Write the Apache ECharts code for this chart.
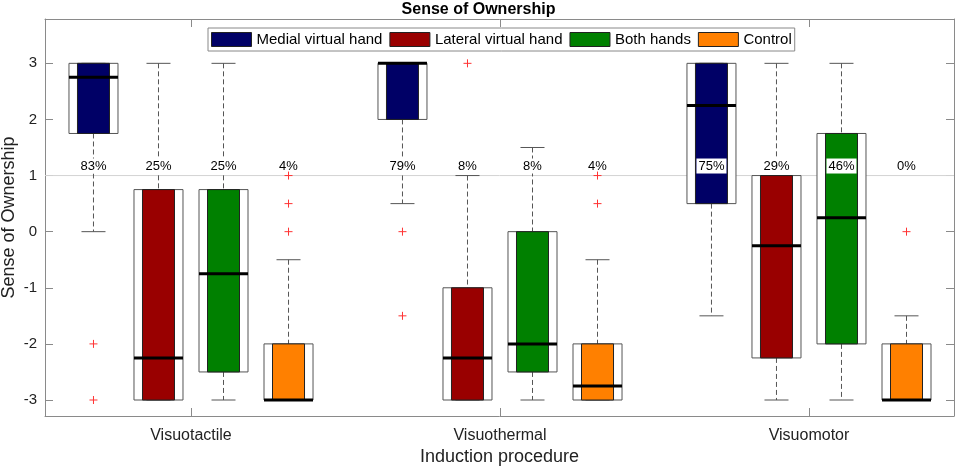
<!DOCTYPE html>
<html>
<head>
<meta charset="utf-8">
<script src="https://cdn.jsdelivr.net/npm/echarts@6/dist/echarts.min.js"></script>
<style>
html,body{margin:0;padding:0;background:#fff;}
#chart{width:957px;height:469px;}
</style>
</head>
<body>
<div id="chart"></div>
<script>
// ---------- data ----------
const categories = ['Visuotactile', 'Visuothermal', 'Visuomotor'];
const seriesNames = ['Medial virtual hand', 'Lateral virtual hand', 'Both hands', 'Control'];
const seriesColors = ['#000066', '#990000', '#008000', '#ff8000'];
const yTicks = [-3, -2, -1, 0, 1, 2, 3];
const refLineValue = 1;

// [whiskerLow, q1, median, q3, whiskerHigh] per category
const medialStats  = [[0, 1.75, 2.75, 3, 3], [0.5, 2, 3, 3, 3], [-1.5, 0.5, 2.25, 3, 3]];
const lateralStats = [[-3, -3, -2.25, 0.75, 3], [-3, -3, -2.25, -1, 1], [-3, -2.25, -0.25, 1, 3]];
const bothStats    = [[-3, -2.5, -0.75, 0.75, 3], [-3, -2.5, -2, 0, 1.5], [-3, -2, 0.25, 1.75, 3]];
const controlStats = [[-3, -3, -3, -2, -0.5], [-3, -3, -2.75, -2, -0.5], [-3, -3, -3, -2, -1.5]];

// outliers per category
const medialOutliers  = [[-2, -3], [0, -1.5], []];
const lateralOutliers = [[], [3], []];
const bothOutliers    = [[], [], []];
const controlOutliers = [[1, 0.5, 0], [1, 0.5], [0]];

// percentage labels per category
const medialPct  = ['83%', '79%', '75%'];
const lateralPct = ['25%', '8%', '29%'];
const bothPct    = ['25%', '8%', '46%'];
const controlPct = ['4%', '4%', '0%'];

// ---------- layout ----------
const allStats = [medialStats, lateralStats, bothStats, controlStats];
const allOutliers = [medialOutliers, lateralOutliers, bothOutliers, controlOutliers];
const allPct = [medialPct, lateralPct, bothPct, controlPct];

const xMin = 0.5275, xMax = 3.4693;
const yMin = -3.285, yMax = 3.79;
const step = 0.2104;
const offsets = [-1.5 * step, -0.5 * step, 0.5 * step, 1.5 * step];
const boxW = 0.1586, innerW = 0.1036, capW = 0.0777;
const labelY = 1.17;
const FONT = '"Liberation Sans", Arial, Helvetica, sans-serif';
const edge = '#555555';

function boxRender(si) {
  return function (params, api) {
    const ci = api.value(0);
    const x = ci + 1 + offsets[si];
    const lo = api.value(1), q1 = api.value(2), med = api.value(3), q3 = api.value(4), hi = api.value(5);
    const px = api.coord([x, 0])[0];
    const yv = v => api.coord([x, v])[1];
    const wOut = api.size([boxW, 0])[0];
    const wIn = api.size([innerW, 0])[0];
    const wCap = api.size([capW, 0])[0];
    const dash = { stroke: edge, lineWidth: 1, lineDash: [5, 3] };
    const solid = { stroke: edge, lineWidth: 1 };
    const children = [
      { type: 'line', shape: { x1: px, y1: yv(hi), x2: px, y2: yv(q3) }, style: dash },
      { type: 'line', shape: { x1: px, y1: yv(q1), x2: px, y2: yv(lo) }, style: dash },
      { type: 'line', shape: { x1: px - wCap / 2, y1: yv(hi), x2: px + wCap / 2, y2: yv(hi) }, style: solid },
      { type: 'line', shape: { x1: px - wCap / 2, y1: yv(lo), x2: px + wCap / 2, y2: yv(lo) }, style: solid },
      { type: 'rect', shape: { x: px - wOut / 2, y: yv(q3), width: wOut, height: yv(q1) - yv(q3) },
        style: { fill: '#ffffff', stroke: edge, lineWidth: 1 } },
      { type: 'rect', shape: { x: px - wIn / 2, y: yv(q3), width: wIn, height: yv(q1) - yv(q3) },
        style: { fill: seriesColors[si], stroke: '#222222', lineWidth: 1 } },
      { type: 'line', shape: { x1: px - wOut / 2, y1: yv(med), x2: px + wOut / 2, y2: yv(med) },
        style: { stroke: '#000000', lineWidth: 3 } },
      { type: 'text', x: px, y: yv(labelY),
        style: { text: allPct[si][ci], fill: '#000', font: '13px ' + FONT, align: 'center', verticalAlign: 'middle',
                 backgroundColor: '#ffffff', padding: [1, 2] } }
    ];
    return { type: 'group', children: children };
  };
}

function outlierRender(params, api) {
  const ci = api.value(0), si = api.value(1), v = api.value(2);
  const p = api.coord([ci + 1 + offsets[si], v]);
  const s = 4;
  const st = { stroke: '#ff3333', lineWidth: 1 };
  return { type: 'group', children: [
    { type: 'line', shape: { x1: p[0] - s, y1: p[1], x2: p[0] + s, y2: p[1] }, style: st },
    { type: 'line', shape: { x1: p[0], y1: p[1] - s, x2: p[0], y2: p[1] + s }, style: st }
  ] };
}

const outlierData = [];
allOutliers.forEach((arr, si) => arr.forEach((vals, ci) => vals.forEach(v => outlierData.push([ci, si, v]))));

const series = [
  {
    type: 'line', name: 'ref', data: [[xMin, refLineValue], [xMax, refLineValue]],
    symbol: 'none', silent: true, z: 1,
    lineStyle: { color: '#d4d4d4', width: 1 }
  }
];
seriesNames.forEach((name, si) => {
  series.push({
    type: 'custom', name: name, coordinateSystem: 'cartesian2d', z: 2,
    itemStyle: { color: seriesColors[si], borderColor: '#222', borderWidth: 1 },
    renderItem: boxRender(si),
    data: allStats[si].map((s, ci) => [ci].concat(s))
  });
});
series.push({ type: 'custom', name: 'outliers', coordinateSystem: 'cartesian2d', z: 3,
  renderItem: outlierRender, data: outlierData, silent: true });

const axisGray = '#8a8a8a';
const chart = echarts.init(document.getElementById('chart'), null, { renderer: 'canvas' });
chart.setOption({
  animation: false,
  backgroundColor: '#ffffff',
  title: {
    text: 'Sense of Ownership', left: 'center', top: 2, padding: 0,
    textStyle: { fontFamily: FONT, fontSize: 16, fontWeight: 'bold', color: '#000' }
  },
  legend: {
    data: seriesNames, left: 208, top: 28, padding: [4, 3, 4, 3],
    itemWidth: 40, itemHeight: 14, itemGap: 7, icon: 'rect',
    borderColor: '#888', borderWidth: 1, backgroundColor: '#fff',
    itemStyle: { borderColor: '#222', borderWidth: 1 },
    textStyle: { fontFamily: FONT, fontSize: 15, color: '#000' },
    selectedMode: false
  },
  grid: { left: 45, right: 3, top: 19, bottom: 53, containLabel: false, outerBoundsMode: 'none' },
  xAxis: [
    {
      type: 'value', min: xMin, max: xMax, position: 'bottom',
      name: 'Induction procedure', nameLocation: 'middle', nameGap: 32, nameMoveOverlap: false,
      nameTextStyle: { fontFamily: FONT, fontSize: 18, color: '#222' },
      axisLine: { show: true, onZero: false, lineStyle: { color: axisGray } },
      axisTick: { show: true, inside: true, length: 8, customValues: [1, 2, 3], lineStyle: { color: axisGray } },
      axisLabel: { customValues: [1, 2, 3], formatter: v => categories[Math.round(v) - 1], margin: 12,
                   fontFamily: FONT, fontSize: 16, color: '#222' },
      splitLine: { show: false }
    },
    {
      type: 'value', min: xMin, max: xMax, position: 'top',
      axisLine: { show: true, onZero: false, lineStyle: { color: axisGray } },
      axisTick: { show: true, inside: true, length: 8, customValues: [1, 2, 3], lineStyle: { color: axisGray } },
      axisLabel: { show: false },
      splitLine: { show: false }
    }
  ],
  yAxis: [
    {
      type: 'value', min: yMin, max: yMax, position: 'left',
      name: 'Sense of Ownership', nameLocation: 'middle', nameGap: 27, nameMoveOverlap: false,
      nameTextStyle: { fontFamily: FONT, fontSize: 18, color: '#222' },
      axisLine: { show: true, onZero: false, lineStyle: { color: axisGray } },
      axisTick: { show: true, inside: true, length: 8, customValues: yTicks, lineStyle: { color: axisGray } },
      axisLabel: { customValues: yTicks, margin: 8, fontFamily: FONT, fontSize: 15, color: '#222' },
      splitLine: { show: false }
    },
    {
      type: 'value', min: yMin, max: yMax, position: 'right',
      axisLine: { show: true, onZero: false, lineStyle: { color: axisGray } },
      axisTick: { show: true, inside: true, length: 8, customValues: yTicks, lineStyle: { color: axisGray } },
      axisLabel: { show: false },
      splitLine: { show: false }
    }
  ],
  series: series
});
</script>
</body>
</html>
